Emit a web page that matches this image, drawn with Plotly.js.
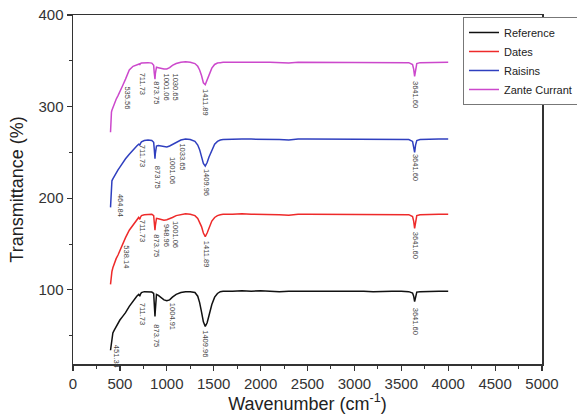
<!DOCTYPE html>
<html><head><meta charset="utf-8">
<script src="https://cdn.plot.ly/plotly-3.0.1.min.js"></script>
<style>html,body{margin:0;padding:0;background:#fff}#chart{width:577px;height:419px}</style>
</head><body><div id="chart"></div>
<script>
// Wavenumber grid (cm^-1) shared by all spectra
const wavenumber = [400,405,410,415,425,440,460,480,500,530,560,600,640,680,700,706,712,718,730,760,800,840,860,866,870,874,878,882,890,910,940,970,1000,1030,1060,1100,1150,1200,1250,1300,1330,1350,1370,1390,1410,1430,1450,1480,1510,1540,1570,1600,1700,1800,1900,2000,2100,2200,2300,2400,2500,2600,2700,2800,2900,3000,3100,3200,3300,3400,3500,3580,3620,3632,3642,3652,3665,3700,3800,3900,4000];

const seriesNames = ["Reference","Dates","Raisins","Zante Currant"];

const referenceT = [34,38,44,50,53,56,60,63,67,71,75,82,88,93,95,94,93,95,97,98,98,97.5,96,88,77,71,78,90,95,94,91,89,88,89,92,95,97,98,98,97,93,86,76,65,60,64,72,84,92,96,98,98.5,98.5,99,98.5,99,98.5,98,98.5,98.5,99,98.5,98.5,99,98.5,98.5,98.5,98,98.5,98.5,98.5,98,96.5,93,87,94,97.5,98,98.5,98.5,98.5];

const datesT = [106,112,117,120,124,129,134,138,143,150,157,165,171,176,179,178,177,179,181,182,182.5,182.5,181,174,168,165,170,176,178,177.5,176.5,176,176.5,177.5,179,181,182,183,182.5,181,178,174,169,162,158,162,168,175,179,181,182,182.5,182.5,183,182.5,182.5,182.5,182,181.5,182.5,182.5,182.5,182.5,182.5,182.5,182,182,182,182,182,182,182,180,175,167,176,181,182,182.5,182.5,182.5];

const raisinsT = [190,200,212,219,221,224,228,231,234,239,243,248,253,257,259,258.5,258,259.5,261.5,263,263.5,263,261,254,247,243,249,255,257,257.5,257,256.5,256,257,258.5,261,263.5,264.5,264,262,258,253,246,238,235,239,245,253,259,262,263.5,264,264.5,264.5,264.5,264.5,264.5,264,263.5,264.5,264.5,264.5,264.5,264.5,264.5,264.5,264.5,264.5,264,264,264,264,262,257,250,258,263,264,264.5,264.5,264.5];

const zanteT = [272,290,294,296,299,303,308,312,316,323,330,340,344,346,347,346.5,345.5,347,347.5,348,348,347.5,345,337,332,330,336,341,343,342.5,341.5,341,341,342.5,345,347,348.5,349,348.5,347,344,340,334,326,324,329,335,342,346,347.5,348,348.3,348.3,348.5,348.3,348.3,348.3,348,347.5,348.3,348.3,348.3,348.3,348.3,348.3,348.3,348,348,348,348,348,348,346,341,333,342,347,348,348.3,348.3,348.3];

// Peak labels
const peakLabels = ["535.56","711.73","873.75","1001.06","1030.65","1411.89","3641.60",
                    "464.84","711.73","873.75","1001.06","1033.65","1409.96","3641.60",
                    "538.14","711.73","873.75","948.96","1001.06","1411.89","3641.60",
                    "451.34","711.73","873.75","1004.91","1409.96","3641.60"];
const peakLabelX = [586,736,896,997,1093,1418,3646,
                    501,736,896,1055,1167,1418,3646,
                    570,736,890,991,1087,1418,3646,
                    458,736,890,1055,1413,3646];
const peakLabelY = [309,325,315.5,321.4,321.4,305,312.7,
                    191.6,246.2,223.3,229.8,245.1,217.8,233.1,
                    136,164.4,148,158.9,160,139.3,148,
                    26.9,73.8,49.8,70.5,41.1,65.1];

const colors = ["#111111","#ee2a2a","#2f3fbf","#cc48cc"];
const ys = [referenceT, datesT, raisinsT, zanteT];

const FONT = "Liberation Sans";
const traces = ys.map((y,i)=>({
  type:"scatter", mode:"lines", x:wavenumber, y:y, name:seriesNames[i],
  line:{color:colors[i], width:1.5}
}));

const annotations = peakLabels.map((t,i)=>({
  x:peakLabelX[i], y:peakLabelY[i], xref:"x", yref:"y", text:t,
  showarrow:false, textangle:90, font:{family:FONT, size:7.5, color:"#444"}
}));

const axisCommon = {
  showline:true, linecolor:"#333", linewidth:1.5, mirror:true,
  showgrid:false, zeroline:false, ticks:"outside", ticklen:5, tickwidth:1.2, tickcolor:"#333",
  tickfont:{family:FONT, size:15, color:"#333"}, automargin:false
};

const layout = {
  width:577, height:419,
  margin:{l:73, r:35, t:15, b:55, autoexpand:false},
  paper_bgcolor:"#fff", plot_bgcolor:"#fff",
  showlegend:true,
  font:{family:FONT, color:"#222"},
  xaxis:Object.assign({}, axisCommon, {
    range:[0,5000], tick0:0, dtick:500,
    minor:{dtick:250, ticks:"outside", ticklen:3, tickcolor:"#333", tickwidth:1, showgrid:false},
    title:{text:"Wavenumber (cm<sup>-1</sup>)", font:{family:FONT, size:18, color:"#222"}, standoff:6}
  }),
  yaxis:Object.assign({}, axisCommon, {
    range:[19,400], tick0:0, dtick:100,
    minor:{dtick:50, ticks:"outside", ticklen:3, tickcolor:"#333", tickwidth:1, showgrid:false},
    title:{text:"Transmittance (%)", font:{family:FONT, size:18, color:"#222"}, standoff:10}
  }),
  legend:{x:0.8316, y:0.9943, xanchor:"left", yanchor:"top", bgcolor:"#fff",
    bordercolor:"#777", borderwidth:1, font:{family:FONT, size:11, color:"#222"},
    tracegroupgap:0, itemwidth:30},
  annotations:annotations
};

Plotly.newPlot("chart", traces, layout, {displayModeBar:false, staticPlot:true});
</script></body></html>
